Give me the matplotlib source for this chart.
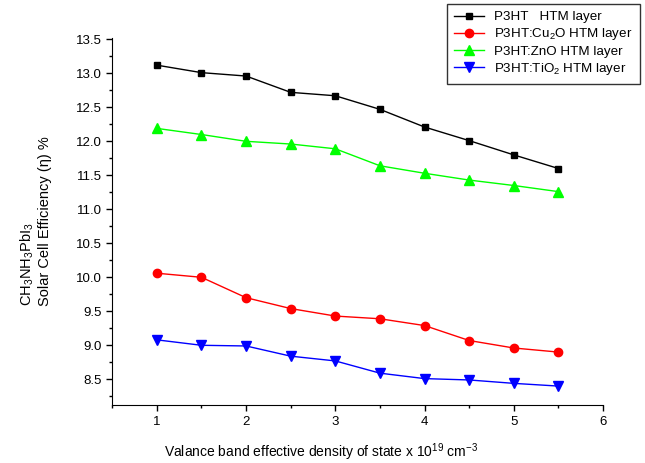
import matplotlib
matplotlib.use("Agg")
import matplotlib.pyplot as plt
from matplotlib.ticker import MultipleLocator

plt.rcParams['font.family'] = ['Liberation Sans', 'DejaVu Sans']
plt.rcParams['mathtext.fontset'] = 'custom'
plt.rcParams['mathtext.rm'] = 'Liberation Sans'
plt.rcParams['mathtext.it'] = 'Liberation Sans:italic'

# valence band effective density of state (x 10^19 cm^-3)
density = [1.0, 1.5, 2.0, 2.5, 3.0, 3.5, 4.0, 4.5, 5.0, 5.5]

eff_p3ht = [13.12, 13.01, 12.96, 12.72, 12.67, 12.47, 12.21, 12.01, 11.80, 11.60]
eff_cu2o = [10.06, 10.00, 9.70, 9.54, 9.43, 9.39, 9.29, 9.07, 8.96, 8.90]
eff_zno = [12.19, 12.10, 12.00, 11.96, 11.89, 11.64, 11.53, 11.43, 11.35, 11.26]
eff_tio2 = [9.08, 9.00, 8.99, 8.84, 8.77, 8.59, 8.51, 8.49, 8.44, 8.40]

labels = ["P3HT   HTM layer", "P3HT:Cu$_2$O HTM layer",
          "P3HT:ZnO HTM layer", "P3HT:TiO$_2$ HTM layer"]

fig = plt.figure(figsize=(6.45, 4.63), dpi=100)
ax = fig.add_axes([0.174, 0.125, 0.761, 0.793])

ax.plot(density, eff_p3ht, color='black', marker='s', ms=5, lw=1, label=labels[0])
ax.plot(density, eff_cu2o, color='red', marker='o', ms=6, lw=1, label=labels[1])
ax.plot(density, eff_zno, color='lime', marker='^', ms=6.5, lw=1, label=labels[2])
ax.plot(density, eff_tio2, color='blue', marker='v', ms=6.5, lw=1, label=labels[3])

ax.set_xlim(0.5, 6)
ax.set_ylim(8.12, 13.52)
ax.xaxis.set_major_locator(MultipleLocator(1))
ax.xaxis.set_minor_locator(MultipleLocator(0.5))
ax.yaxis.set_minor_locator(MultipleLocator(0.25))
ax.set_yticks([8.5 + 0.5 * i for i in range(11)])
ax.tick_params(which='major', direction='out', length=4, width=1, labelsize=9.5)
ax.tick_params(which='minor', direction='out', length=2.5, width=1)
ax.spines['top'].set_visible(False)
ax.spines['right'].set_visible(False)

ax.set_xlabel("Valance band effective density of state x 10$^{19}$ cm$^{-3}$", fontsize=10)
ax.xaxis.set_label_coords(0.426, -0.098)
ax.set_ylabel("CH$_3$NH$_3$PbI$_3$\nSolar Cell Efficiency (\u03b7) %", fontsize=10.5,
              labelpad=17, multialignment='left')

leg = ax.legend(loc='upper left', bbox_to_anchor=(0.682, 1.093), fontsize=9.6,
                frameon=True, fancybox=False, edgecolor='black', borderpad=0.55,
                handlelength=2.2, labelspacing=0.22, borderaxespad=0)
leg.get_frame().set_linewidth(1)

fig.savefig("out.png", dpi=100)
